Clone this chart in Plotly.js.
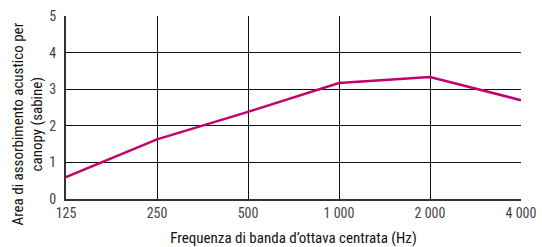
<!DOCTYPE html>
<html><head><meta charset="utf-8">
<script src="https://cdn.plot.ly/plotly-3.0.1.min.js"></script>
<style>html,body{margin:0;padding:0;background:#fff}</style>
</head><body><div id="c" style="width:542px;height:247px"></div>
<script>
var categories = ["125", "250", "500", "1 000", "2 000", "4 000"];
var values = [0.6, 1.63, 2.38, 3.17, 3.33, 2.7];
var yTicks = [0, 1, 2, 3, 4, 5];
var yTitle = 'Area di assorbimento acustico per<br>canopy (sabine)';
var xTitle = 'Frequenza di banda d’ottava centrata (Hz)';
var F = "'Roboto Condensed', 'Liberation Sans Narrow', sans-serif";
Plotly.newPlot('c', [{
  x: categories, y: values, type: 'scatter', mode: 'lines',
  line: {color: '#c4006d', width: 2.5}, hoverinfo: 'none'
}], {
  width: 542, height: 247,
  margin: {l: 66, r: 21, t: 16, b: 48},
  paper_bgcolor: '#fff', plot_bgcolor: '#fff',
  showlegend: false,
  font: {family: F, size: 14, color: '#333'},
  xaxis: {
    type: 'category', range: [0, 5], showgrid: true, gridcolor: '#111', gridwidth: 1,
    showline: true, linecolor: '#333', linewidth: 2, mirror: false,
    ticks: '', ticklen: 0, tickfont: {family: F, size: 14, color: '#444'},
    zeroline: false, fixedrange: true,
    title: {text: xTitle, font: {family: F, size: 15, color: '#111'}, standoff: 15}
  },
  yaxis: {
    range: [0, 5], tickvals: yTicks, showgrid: true, gridcolor: '#111', gridwidth: 1,
    showline: true, linecolor: '#333', linewidth: 2,
    ticks: '', ticklabelstandoff: 5, tickfont: {family: F, size: 14, color: '#444'},
    zeroline: false, fixedrange: true
  },
  annotations: [{
    text: yTitle, xref: 'paper', yref: 'paper', x: 0, y: 0.5,
    xanchor: 'center', yanchor: 'middle', xshift: -39, yshift: -17,
    textangle: -90, showarrow: false, align: 'center',
    font: {family: F, size: 15, color: '#111'}
  }]
}, {staticPlot: true});
</script></body></html>
